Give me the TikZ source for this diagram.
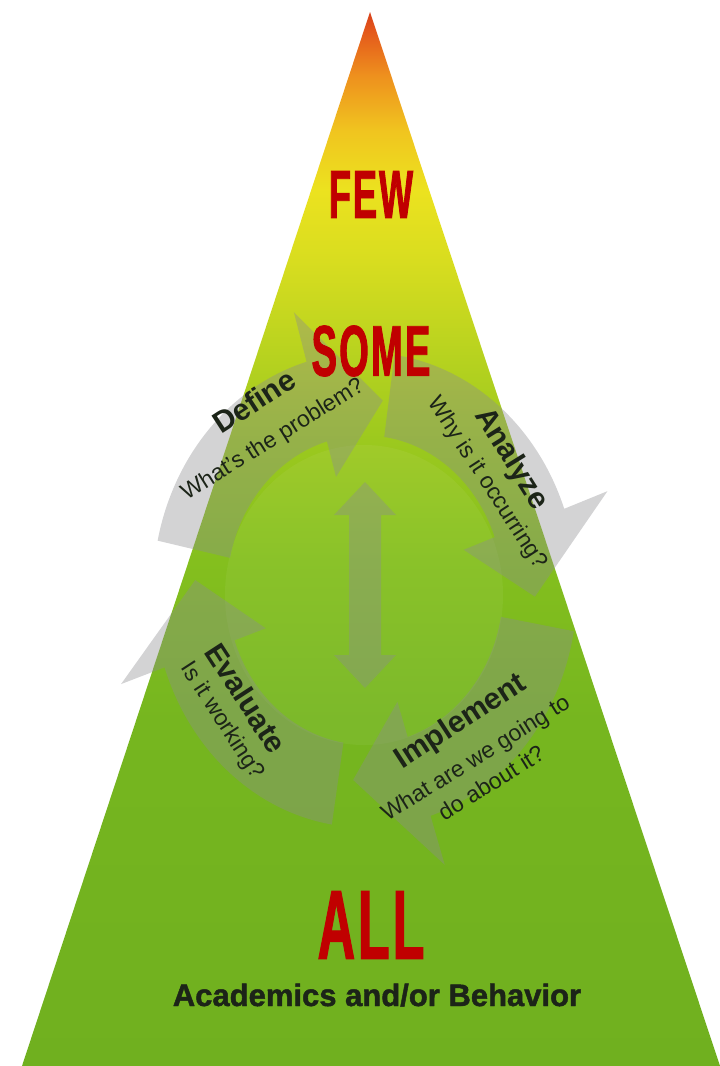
\documentclass[tikz,border=0pt]{standalone}
\usepackage{fontspec}
\setmainfont{Liberation Sans}
\newfontfamily\tallfont{Liberation Sans Bold}[FakeStretch=0.53,FakeBold=1.2,LetterSpace=3]
\newfontfamily\heavyfont{Liberation Sans Bold}[FakeBold=1.5]
\usetikzlibrary{arrows.meta}

\definecolor{grass}{HTML}{70B01F}
\definecolor{leaf}{HTML}{76B61F}
\definecolor{lime}{HTML}{84BF1E}
\definecolor{sprout}{HTML}{9CC91E}
\definecolor{pear}{HTML}{BCD41F}
\definecolor{citron}{HTML}{D8DD1F}
\definecolor{lemon}{HTML}{ECE21F}
\definecolor{amber}{HTML}{F0C41F}
\definecolor{tangerine}{HTML}{EE901E}
\definecolor{ember}{HTML}{E4581B}
\definecolor{flame}{HTML}{D8401A}
\definecolor{tierred}{HTML}{C00000}
\definecolor{ink}{HTML}{1C2418}
\definecolor{cyclegray}{HTML}{8C8C90}

\pgfdeclareverticalshading{pyramid}{100bp}{color(0bp)=(grass); color(25bp)=(grass);
  color(41.4bp)=(leaf); color(49bp)=(lime); color(54.7bp)=(sprout);
  color(59.4bp)=(pear); color(63.2bp)=(citron); color(66.6bp)=(lemon);
  color(69.4bp)=(amber); color(72bp)=(tangerine); color(74.1bp)=(ember);
  color(75bp)=(flame); color(100bp)=(flame)}

\tikzset{
  tier/.style={text=tierred,inner sep=0pt},
  stage/.style={text=ink,inner sep=0pt,font=\bfseries\fontsize{30}{30}\selectfont},
  question/.style={text=ink,inner sep=0pt,align=center,font=\fontsize{23}{30}\selectfont},
}

\begin{document}
\begin{tikzpicture}[x=1pt,y=-1pt]
  \useasboundingbox (0,0) rectangle (720,1066);
  \fill[white] (0,0) rectangle (720,1066);
  % pyramid
  \coordinate (apex) at (370,12);
  \coordinate (base left) at (22,1066);
  \coordinate (base right) at (720,1066);
  \shade[shading=pyramid] (apex) -- (base left) -- (base right) -- cycle;
  \fill[white,opacity=.05] (364,595) ellipse[x radius=139,y radius=150];
  % cycle arrows
  \begin{scope}[shift={(365,590)},yscale=-1.12]
    \fill[cyclegray,opacity=.38]
      \foreach \hb/\tb in {106/168,20/82,-72/-10,-161/-99}
        {(\tb:212) arc[start angle=\tb,end angle=\hb,radius=212]
          -- (\hb:258) -- (\hb-22:170) -- (\hb:105) -- (\hb:138)
          arc[start angle=\hb,end angle=\tb,radius=138] -- cycle};
  \end{scope}
  \fill[cyclegray,opacity=.38] (365,482) -- (396,515) -- (381,515) -- (381,655)
    -- (396,655) -- (365,688) -- (334,655) -- (349,655) -- (349,515)
    -- (334,515) -- cycle;
  % tiers
  \node[tier,font=\tallfont\fontsize{68}{68}\selectfont] (few) at (371,194.5) {FEW};
  \node[tier,font=\tallfont\fontsize{72}{72}\selectfont] (some) at (371,351) {SOME};
  \node[tier,font=\tallfont\fontsize{98}{98}\selectfont] (all) at (371,925) {ALL};
  \node[text=ink,inner sep=0pt,anchor=base,font=\heavyfont\fontsize{31}{31}\selectfont]
    (focus) at (377,1006) {Academics and/or Behavior};
  % stages
  \node[stage,rotate=33] (define) at (254,401) {Define};
  \node[question,rotate=32] (define q) at (273,440) {What's the problem?};
  \node[stage,rotate=-58] (analyze) at (511,459) {Analyze};
  \node[question,rotate=-57] (analyze q) at (487,483) {Why is it occurring?};
  \node[stage,rotate=33] (implement) at (461,722) {Implement};
  \node[question,rotate=32] (implement q) at (483,770) {What are we going to\\do about it?};
  \node[stage,rotate=-57] (evaluate) at (246,698) {Evaluate};
  \node[question,rotate=-57] (evaluate q) at (222,721) {Is it working?};
\end{tikzpicture}
\end{document}
